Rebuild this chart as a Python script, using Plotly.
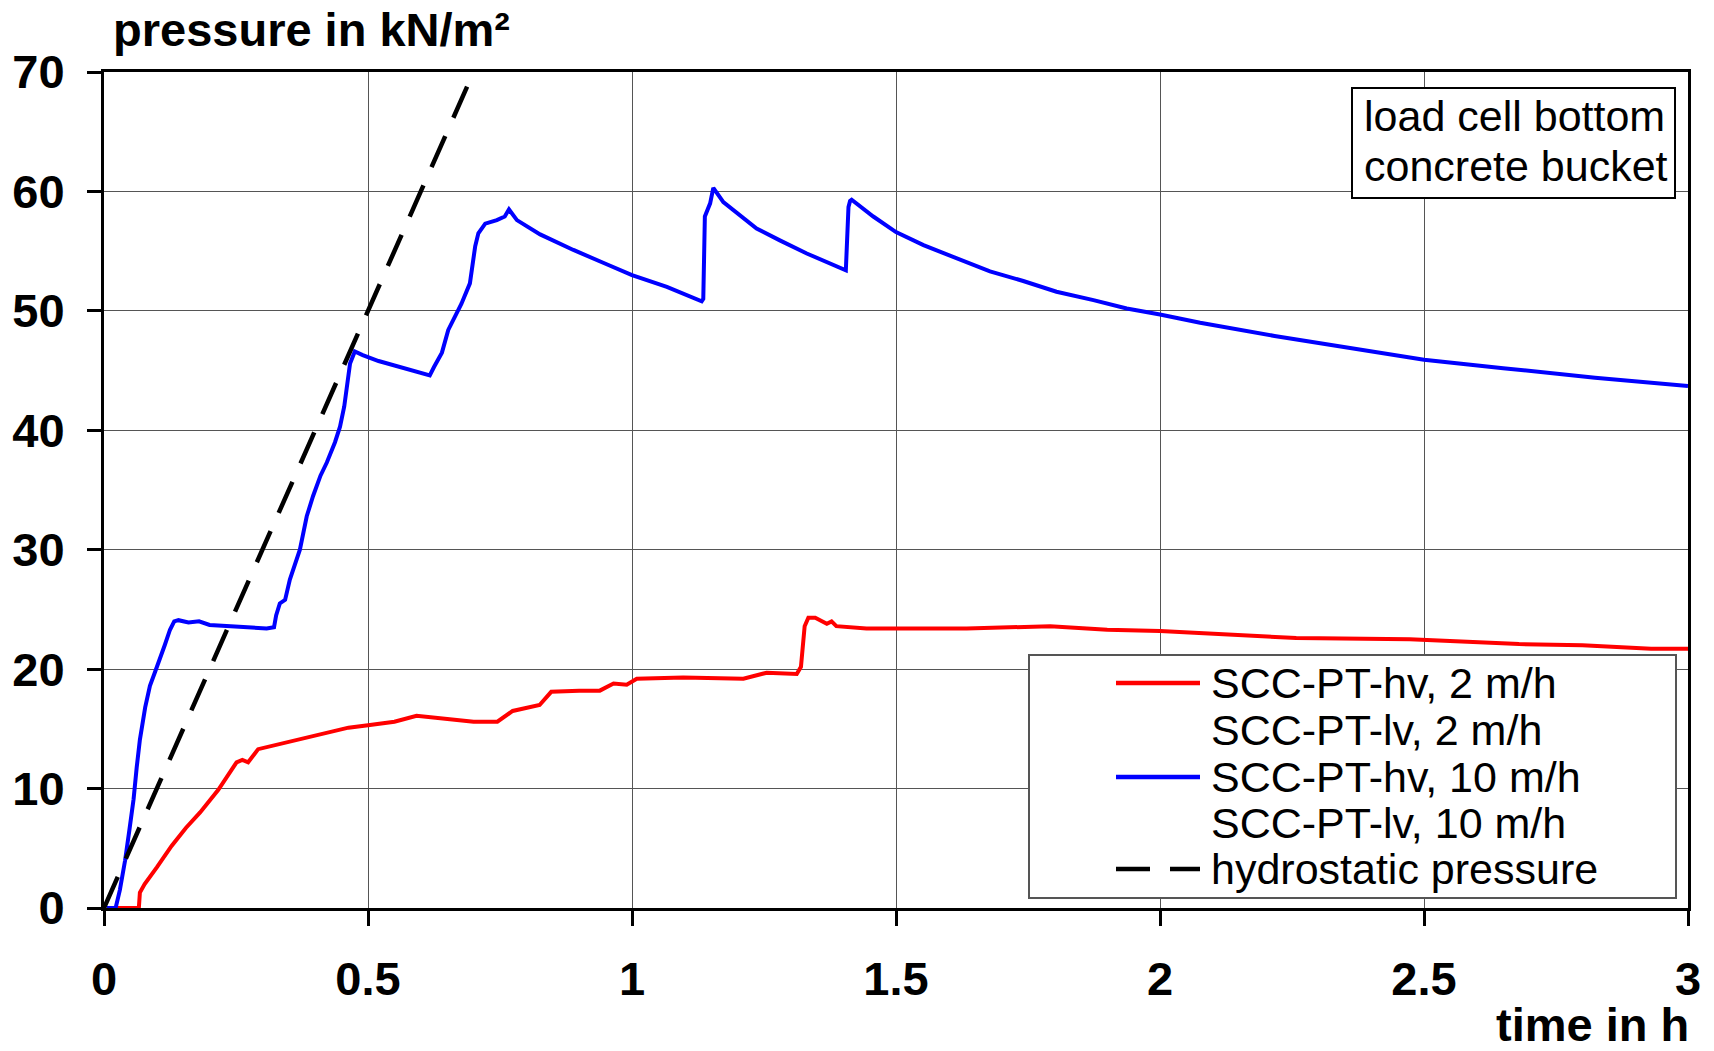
import plotly.graph_objects as go

# ---- measured load-cell pressure, bottom of concrete bucket ----
# SCC-PT-hv, 10 m/h
t_hv10 = [0.005, 0.022, 0.030, 0.040, 0.048, 0.056, 0.062, 0.068, 0.078, 0.087,
          0.097, 0.106, 0.115, 0.125, 0.133, 0.141, 0.160, 0.180, 0.200, 0.240,
          0.280, 0.308, 0.322, 0.326, 0.333, 0.343, 0.352, 0.360, 0.371, 0.384,
          0.396, 0.410, 0.422, 0.4375, 0.447, 0.455, 0.460, 0.466, 0.475, 0.490,
          0.520, 0.561, 0.590, 0.617, 0.625, 0.640, 0.652, 0.665, 0.677, 0.693,
          0.703, 0.709, 0.722, 0.744, 0.759, 0.767, 0.782, 0.826, 0.889, 0.952,
          1.000, 1.066, 1.132, 1.135, 1.138, 1.148, 1.154, 1.173, 1.198, 1.236,
          1.280, 1.331, 1.405, 1.408, 1.410, 1.413, 1.416, 1.457, 1.500, 1.552,
          1.615, 1.678, 1.741, 1.804, 1.874, 1.937, 2.000, 2.076, 2.217, 2.390,
          2.500, 2.650, 2.824, 3.000]
p_hv10 = [0.0, 0.0, 1.5, 4.0, 6.5, 9.1, 11.8, 14.1, 16.8, 18.6,
          19.8, 20.8, 22.0, 23.3, 24.0, 24.1, 23.9, 24.0, 23.7, 23.6,
          23.5, 23.4, 23.5, 24.5, 25.5, 25.8, 27.5, 28.5, 30.0, 32.8,
          34.5, 36.2, 37.3, 39.0, 40.3, 42.0, 43.4, 45.6, 46.6, 46.3,
          45.8, 45.3, 45.0, 44.6, 45.3, 46.5, 48.4, 49.5, 50.6, 52.3,
          55.4, 56.5, 57.3, 57.6, 57.9, 58.5, 57.6, 56.4, 55.1, 53.9,
          53.0, 52.0, 50.8, 51.0, 57.9, 59.0, 60.3, 59.1, 58.2, 56.9,
          55.9, 54.8, 53.4, 56.0, 58.7, 59.2, 59.3, 57.9, 56.6, 55.5,
          54.4, 53.3, 52.5, 51.6, 50.9, 50.2, 49.7, 49.0, 47.9, 46.7,
          45.9, 45.2, 44.4, 43.7]

# SCC-PT-hv, 2 m/h
t_hv2 = [0.024, 0.066, 0.068, 0.077, 0.100, 0.128, 0.155, 0.182, 0.2165, 0.240,
         0.251, 0.262, 0.273, 0.292, 0.330, 0.371, 0.420, 0.463, 0.500, 0.550,
         0.592, 0.652, 0.700, 0.745, 0.774, 0.825, 0.847, 0.900, 0.939, 0.965,
         0.990, 1.009, 1.097, 1.211, 1.255, 1.312, 1.320, 1.327, 1.334, 1.347,
         1.369, 1.378, 1.387, 1.444, 1.500, 1.634, 1.792, 1.900, 2.000, 2.258,
         2.473, 2.680, 2.800, 2.930, 3.000]
p_hv2 = [0.0, 0.0, 1.3, 2.0, 3.4, 5.2, 6.7, 8.0, 9.9, 11.5,
         12.2, 12.4, 12.2, 13.3, 13.7, 14.2, 14.7, 15.1, 15.3, 15.6,
         16.1, 15.8, 15.6, 15.6, 16.5, 17.0, 18.1, 18.2, 18.2, 18.8,
         18.7, 19.2, 19.3, 19.2, 19.7, 19.6, 20.2, 23.6, 24.3, 24.3,
         23.8, 24.0, 23.6, 23.4, 23.4, 23.4, 23.6, 23.3, 23.2, 22.6,
         22.5, 22.1, 22.0, 21.7, 21.7]

# hydrostatic pressure line
t_hydro = [0.0, 0.7]
p_hydro = [0.0, 70.0]

series_names = ["SCC-PT-hv, 2 m/h", "SCC-PT-lv, 2 m/h",
                "SCC-PT-hv, 10 m/h", "SCC-PT-lv, 10 m/h", "hydrostatic pressure"]
x_ticks = [0, 0.5, 1, 1.5, 2, 2.5, 3]
y_ticks = [0, 10, 20, 30, 40, 50, 60, 70]

RED = "#ff0000"
BLUE = "#0000ff"
FONT = "Liberation Sans, Arial, sans-serif"

W, H = 1714, 1051
ML, MR, MT, MB = 104, 26, 72, 143
PW, PH = W - ML - MR, H - MT - MB


def px(x):
    return (x - ML) / PW


def py(y):
    return (H - MB - y) / PH


fig = go.Figure()
fig.add_trace(go.Scatter(x=t_hv2, y=p_hv2, mode="lines", name=series_names[0],
                         line=dict(color=RED, width=4), showlegend=False))
fig.add_trace(go.Scatter(x=t_hv10, y=p_hv10, mode="lines", name=series_names[2],
                         line=dict(color=BLUE, width=4), showlegend=False))
fig.add_trace(go.Scatter(x=t_hydro, y=p_hydro, mode="lines", name=series_names[4],
                         line=dict(color="black", width=4.5, dash="34px,20px"),
                         showlegend=False))

axis_common = dict(showline=True, linecolor="black", linewidth=3, mirror=True,
                   ticks="outside", tickcolor="black", tickwidth=3,
                   showgrid=True, gridcolor="#555555", gridwidth=1.4,
                   zeroline=False, automargin=False,
                   tickfont=dict(family=FONT, size=47, color="black", weight="bold"))

fig.update_xaxes(range=[0, 3], tickvals=x_ticks, ticklen=15,
                 ticklabelstandoff=13, **axis_common)
fig.update_yaxes(range=[0, 70], tickvals=y_ticks, ticklen=14,
                 ticklabelstandoff=13, **axis_common)

shapes = []
annotations = []

# axis titles
annotations.append(dict(text="pressure in kN/m²", x=px(112), y=py(30),
                        xref="paper", yref="paper", xanchor="left", yanchor="middle",
                        showarrow=False, borderpad=0,
                        font=dict(family=FONT, size=47, color="black", weight="bold")))
annotations.append(dict(text="time in h", x=px(1690), y=py(1024),
                        xref="paper", yref="paper", xanchor="right", yanchor="middle",
                        showarrow=False, borderpad=0,
                        font=dict(family=FONT, size=47, color="black", weight="bold")))

# info box, top right
shapes.append(dict(type="rect", xref="paper", yref="paper",
                   x0=px(1352), x1=px(1675), y0=py(198), y1=py(88),
                   line=dict(color="black", width=2), fillcolor="white", layer="above"))
for txt, yc in [("load cell bottom", 116), ("concrete bucket", 166)]:
    annotations.append(dict(text=txt, x=px(1362), y=py(yc), xref="paper", yref="paper",
                            xanchor="left", yanchor="middle", showarrow=False,
                            font=dict(family=FONT, size=43, color="black")))

# legend box
shapes.append(dict(type="rect", xref="paper", yref="paper",
                   x0=px(1029), x1=px(1676), y0=py(898), y1=py(655),
                   line=dict(color="#555555", width=2), fillcolor="white", layer="above"))
legend_rows = [(series_names[0], RED, "solid", 683),
               (series_names[1], None, None, 730),
               (series_names[2], BLUE, "solid", 777),
               (series_names[3], None, None, 823),
               (series_names[4], "black", "34px,20px", 869)]
for name, col, dash, yc in legend_rows:
    if col is not None:
        shapes.append(dict(type="line", xref="paper", yref="paper",
                           x0=px(1116), x1=px(1200), y0=py(yc), y1=py(yc),
                           line=dict(color=col, width=4.5, dash=dash), layer="above"))
    annotations.append(dict(text=name, x=px(1209), y=py(yc), xref="paper", yref="paper",
                            xanchor="left", yanchor="middle", showarrow=False,
                            font=dict(family=FONT, size=43, color="black")))

fig.update_layout(width=W, height=H,
                  margin=dict(l=ML, r=MR, t=MT, b=MB, pad=0),
                  paper_bgcolor="white", plot_bgcolor="white",
                  showlegend=False, shapes=shapes, annotations=annotations)

fig.write_html("out.html", config={"displayModeBar": False})
